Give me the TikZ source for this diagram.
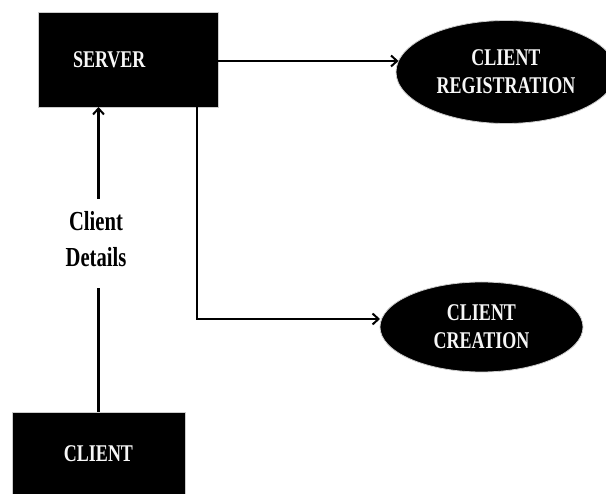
\documentclass[tikz,border=0pt]{standalone}
\usepackage{fontspec}
\setmainfont{Liberation Serif}[FakeStretch=0.75]
\usetikzlibrary{arrows.meta,calc,positioning,shapes.geometric}
\definecolor{FlowInk}{gray}{0.0}
\definecolor{FlowText}{gray}{0.97}
\definecolor{FlowEdge}{gray}{0.80}
\tikzset{
    flow/diagram/.style={
        x=1pt, y=-1pt,
        line width=2.5pt,
        line cap=butt,
        every node/.style={inner sep=0pt, outer sep=0pt}
    },
    flow/box/.style={
        rectangle, fill=FlowInk, draw=FlowEdge, line width=0.8pt,
        text=FlowText, font=\fontsize{24}{29}\selectfont\bfseries
    },
    flow/process/.style={
        ellipse, fill=FlowInk, draw=FlowEdge, line width=0.8pt,
        text=FlowText, align=center,
        font=\fontsize{24}{28}\selectfont\bfseries
    },
    flow/line/.style={draw=FlowInk, line width=2.5pt},
    flow/map/.style={
        draw=FlowInk, line width=2.5pt,
        -{Straight Barb[length=6pt, width=11pt, line width=2pt]}
    },
    flow/label/.style={
        align=center, text=FlowInk,
        font=\fontsize{27.5}{36}\selectfont\bfseries
    }
}
\begin{document}
\begin{tikzpicture}[flow/diagram]
    \useasboundingbox (0,0) rectangle (606,494);
    \begin{scope}
        \clip (0,0) rectangle (606,494);
        \node[flow/box, minimum height=95pt, text width=110pt, inner xsep=35pt,
            align=left] (server) at (128,59.5) {SERVER};
        \node[flow/box, minimum width=173pt, minimum height=84pt]
            (client) at (98.5,454) {CLIENT};
        \node[flow/process, minimum width=220pt, minimum height=103pt]
            (registration) at (506,72) {CLIENT\\REGISTRATION};
        \node[flow/process, minimum width=203pt, minimum height=90pt]
            (creation) at (481.5,327) {CLIENT\\CREATION};
    \end{scope}
    \node[flow/label] (details) at (96,239) {Client\\Details};
    % the request runs up past the label into the server
    \draw[flow/line] (client.north) -- (client.north |- 0,288);
    \draw[flow/map] (client.north |- 0,199) -- (client.north |- server.south);
    \draw[flow/map] ([yshift=-1.5pt]server.east)
        -- ([xshift=2.5pt,yshift=-1.5pt]server.east -| registration.west);
    \draw[flow/map] ([xshift=-21pt]server.south east)
        |- ([yshift=8pt]creation.west);
\end{tikzpicture}
\end{document}
